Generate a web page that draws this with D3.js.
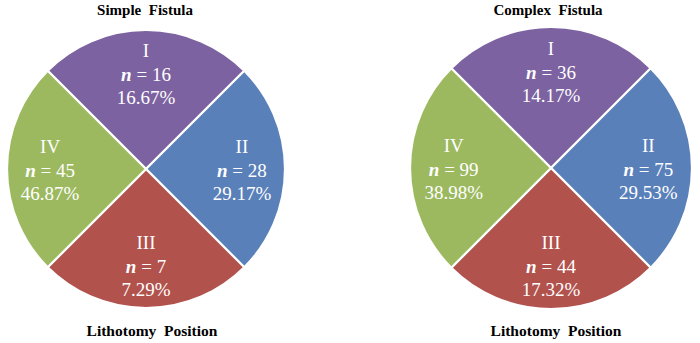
<!DOCTYPE html>
<html>
<head>
<meta charset="utf-8">
<script src="https://cdn.jsdelivr.net/npm/d3@7"></script>
<style>
  body { margin: 0; background: #fff; }
  text { white-space: pre; }
</style>
</head>
<body>
<div id="chart"></div>
<script>
// categories and values
var categories = ["I", "II", "III", "IV"];
var simpleN = [16, 28, 7, 45];
var simplePct = ["16.67%", "29.17%", "7.29%", "46.87%"];
var complexN = [36, 75, 44, 99];
var complexPct = ["14.17%", "29.53%", "17.32%", "38.98%"];
var titles = ["Simple  Fistula", "Complex  Fistula"];
var footer = "Lithotomy  Position";

var colors = ["#7c62a0", "#5a80ba", "#b1524d", "#9cb95f"];
var serif = "'Liberation Serif', 'Times New Roman', Times, serif";

var w = 700, h = 343;

var svg = d3.select("#chart")
    .append("svg")
    .attr("width", w)
    .attr("height", h)
    .attr("font-family", serif);

// the figure draws four equal quadrants, the n is only printed in them
var pie = d3.pie()
    .value(function() { return 1; })
    .sort(null)
    .startAngle(-Math.PI / 4)
    .endAngle(2 * Math.PI - Math.PI / 4);

var color = d3.scaleOrdinal().domain(categories).range(colors);

function drawPie(cx, cy, r, ns, pcts, title, titleX, footX) {
    var rows = categories.map(function(c, i) {
        return { cat: c, n: ns[i], pct: pcts[i] };
    });

    var g = svg.append("g")
        .attr("transform", "translate(" + cx + "," + cy + ")");

    var arc = d3.arc().innerRadius(0).outerRadius(r);
    var labelArc = d3.arc().innerRadius(r * 0.69).outerRadius(r * 0.69);

    var slices = g.selectAll("g.slice")
        .data(pie(rows))
        .enter()
        .append("g")
        .attr("class", "slice");

    slices.append("path")
        .attr("d", arc)
        .attr("fill", function(d) { return color(d.data.cat); })
        .attr("stroke", "#fff")
        .attr("stroke-width", 2.2);

    var lbl = slices.append("text")
        .attr("transform", function(d) {
            var c = labelArc.centroid(d);
            return "translate(" + c[0] + "," + (c[1] + 1) + ")";
        })
        .attr("text-anchor", "middle")
        .attr("fill", "#fff")
        .attr("font-family", serif)
        .attr("font-size", 19);

    lbl.append("tspan")
        .attr("x", 0)
        .attr("y", -17)
        .text(function(d) { return d.data.cat; });

    var nLine = lbl.append("tspan")
        .attr("x", 0)
        .attr("y", 7);
    nLine.append("tspan")
        .attr("font-style", "italic")
        .attr("font-weight", "bold")
        .text("n");
    nLine.append("tspan")
        .text(function(d) { return " = " + d.data.n; });

    lbl.append("tspan")
        .attr("x", 0)
        .attr("y", 30)
        .text(function(d) { return d.data.pct; });

    svg.append("text")
        .attr("x", titleX)
        .attr("y", 15)
        .attr("text-anchor", "middle")
        .attr("font-family", serif)
        .attr("font-size", 15)
        .attr("font-weight", "bold")
        .text(title);

    svg.append("text")
        .attr("x", footX)
        .attr("y", 336)
        .attr("text-anchor", "middle")
        .attr("font-family", serif)
        .attr("font-size", 15.5)
        .attr("font-weight", "bold")
        .text(footer);
}

drawPie(146, 169, 139, simpleN, simplePct, titles[0], 145, 152);
drawPie(551, 168, 141, complexN, complexPct, titles[1], 548, 556);
</script>
</body>
</html>
